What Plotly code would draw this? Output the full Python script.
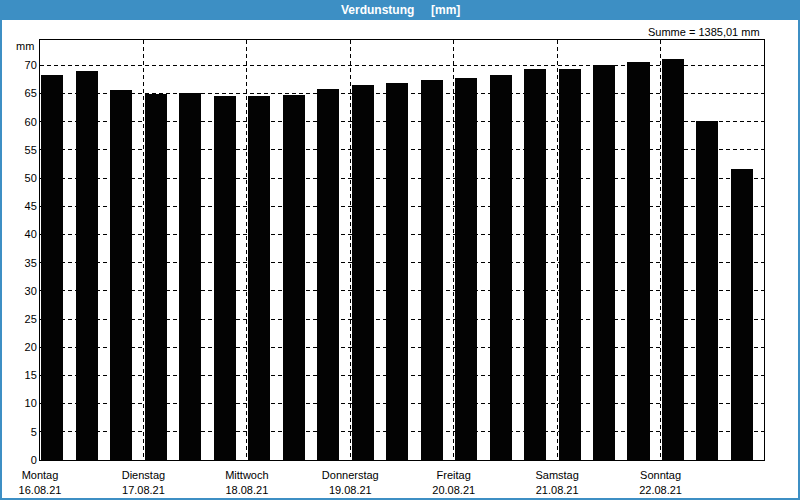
import plotly.graph_objects as go

values = [68.3, 69.0, 65.7, 65.0, 65.1, 64.6, 64.6, 64.7, 65.8, 66.5, 66.9,
          67.4, 67.7, 68.3, 69.3, 69.3, 70.0, 70.6, 71.1, 60.1, 51.6]
day_names = ["Montag", "Dienstag", "Mittwoch", "Donnerstag", "Freitag", "Samstag", "Sonntag"]
day_dates = ["16.08.21", "17.08.21", "18.08.21", "19.08.21", "20.08.21", "21.08.21", "22.08.21"]
y_ticks = list(range(0, 75, 5))
title_text = "Verdunstung&nbsp;&nbsp;&nbsp;&nbsp;&nbsp;[mm]"
sum_text = "Summe = 1385,01 mm"
unit_text = "mm"

BLUE = "#3d8fc4"
FONT = "Liberation Sans"

x_pos = list(range(len(values)))
day_pos = [i * 3 for i in range(len(day_names))]

fig = go.Figure()
fig.add_trace(go.Bar(
    x=x_pos, y=values, width=0.64, offset=0.04,
    marker=dict(color="#030303", line=dict(width=0)),
    hoverinfo="y",
))

fig.update_layout(
    width=800, height=500, autosize=False,
    margin=dict(l=0, r=0, t=0, b=0, pad=0, autoexpand=False),
    paper_bgcolor="white", plot_bgcolor="white",
    showlegend=False,
    bargap=0,
    font=dict(family=FONT, size=11, color="#000000"),
    xaxis=dict(
        domain=[40 / 800, 764 / 800],
        range=[0, 21],
        tickvals=day_pos,
        ticktext=[f"{n}<br>{d}" for n, d in zip(day_names, day_dates)],
        showgrid=True, gridcolor="black", gridwidth=1, griddash="4px,3px",
        showline=True, linecolor="black", linewidth=1, mirror=True,
        ticks="", zeroline=False, automargin=False,
        ticklabelstandoff=5,
        tickfont=dict(family=FONT, size=11),
        fixedrange=True,
    ),
    yaxis=dict(
        domain=[40 / 500, 460 / 500],
        range=[0, 74.5],
        tickvals=y_ticks,
        showgrid=True, gridcolor="black", gridwidth=1, griddash="4px,3px",
        showline=True, linecolor="black", linewidth=1, mirror=True,
        ticks="", zeroline=False, automargin=False,
        tickfont=dict(family=FONT, size=11),
        fixedrange=True,
    ),
    shapes=[
        dict(type="rect", xref="paper", yref="paper", x0=0, x1=1, y0=1 - 20 / 500, y1=1,
             fillcolor=BLUE, line=dict(width=0), layer="above"),
        dict(type="rect", xref="paper", yref="paper", x0=0, x1=2 / 800, y0=0, y1=1,
             fillcolor=BLUE, line=dict(width=0), layer="above"),
        dict(type="rect", xref="paper", yref="paper", x0=1 - 2 / 800, x1=1, y0=0, y1=1,
             fillcolor=BLUE, line=dict(width=0), layer="above"),
        dict(type="rect", xref="paper", yref="paper", x0=0, x1=1, y0=0, y1=2 / 500,
             fillcolor=BLUE, line=dict(width=0), layer="above"),
    ],
    annotations=[
        dict(text=title_text, xref="paper", yref="paper", x=0.5, y=1 - 10 / 500,
             showarrow=False, xanchor="center", yanchor="middle",
             font=dict(family=FONT, size=12, color="white", weight="bold")),
        dict(text=sum_text, xref="paper", yref="paper", x=762 / 800, y=1 - 32 / 500,
             showarrow=False, xanchor="right", yanchor="middle",
             font=dict(family=FONT, size=11)),
        dict(text=unit_text, xref="paper", yref="paper", x=36 / 800, y=1 - 46 / 500,
             showarrow=False, xanchor="right", yanchor="middle",
             font=dict(family=FONT, size=11)),
    ],
)

fig.write_html("out.html", config={"displayModeBar": False})
